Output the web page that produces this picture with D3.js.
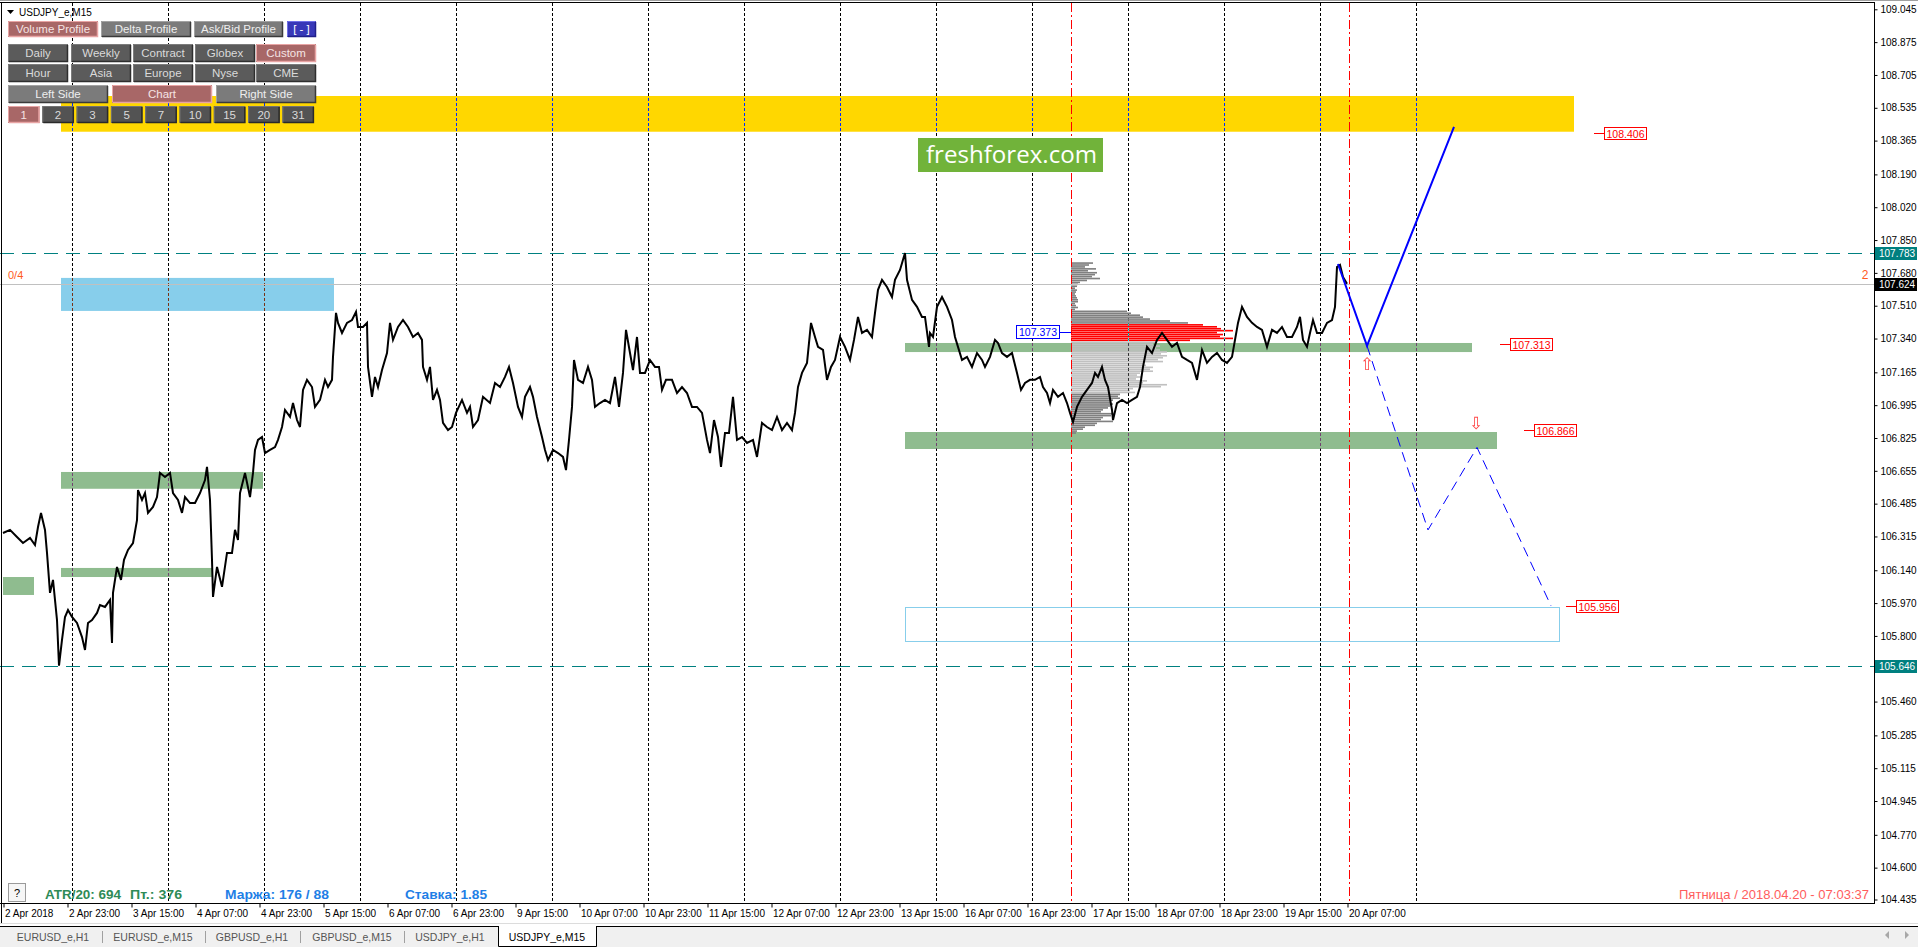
<!DOCTYPE html>
<html>
<head>
<meta charset="utf-8">
<title>USDJPY_e,M15</title>
<script src="https://cdnjs.cloudflare.com/ajax/libs/d3/7.8.5/d3.min.js"></script>
<style>
  body { margin: 0; background: #fff; overflow: hidden; }
  text { font-family: "Liberation Sans", Arial, sans-serif; }
</style>
</head>
<body>
<svg id="chart" width="1918" height="947"></svg>
<script>
// ---------- values (bars are M15 bars from 2 Apr 07:00) ----------
const priceTicks = [109.045, 108.875, 108.705, 108.535, 108.365, 108.190, 108.020, 107.850,
  107.680, 107.510, 107.340, 107.165, 106.995, 106.825, 106.655, 106.485, 106.315, 106.140,
  105.970, 105.800, 105.630, 105.460, 105.285, 105.115, 104.945, 104.770, 104.600, 104.435];

const timeLabels = ['2 Apr 2018', '2 Apr 23:00', '3 Apr 15:00', '4 Apr 07:00', '4 Apr 23:00',
  '5 Apr 15:00', '6 Apr 07:00', '6 Apr 23:00', '9 Apr 15:00', '10 Apr 07:00', '10 Apr 23:00',
  '11 Apr 15:00', '12 Apr 07:00', '12 Apr 23:00', '13 Apr 15:00', '16 Apr 07:00', '16 Apr 23:00',
  '17 Apr 15:00', '18 Apr 07:00', '18 Apr 23:00', '19 Apr 15:00', '20 Apr 07:00'];
const barsPerLabel = 64;

// day separators (midnight bars)
const daySeparators = [69, 165, 261, 357, 453, 549, 645, 741, 837, 933, 1029, 1125, 1221, 1317, 1413];
// custom volume profile range
const profileRange = [1068, 1346];

// close line [bar, price]
const closes = [
  [0,106.333],[7,106.349],[14,106.312],[20,106.281],[27,106.307],[32,106.271],[35,106.364],[38,106.437],
  [42,106.349],[44,106.230],[47,106.023],[50,106.090],[54,105.882],[56,105.646],[59,105.779],[62,105.898],
  [65,105.934],[69,105.898],[74,105.867],[79,105.794],[82,105.727],[85,105.867],[89,105.882],[94,105.919],
  [97,105.960],[102,105.950],[107,105.986],[109,105.763],[110,106.023],[114,106.157],[118,106.090],[121,106.194],
  [125,106.245],[130,106.281],[134,106.400],[135,106.555],[139,106.504],[142,106.540],[145,106.437],[150,106.468],
  [154,106.519],[157,106.644],[162,106.623],[167,106.644],[170,106.540],[175,106.504],[179,106.437],[182,106.519],
  [187,106.488],[192,106.488],[197,106.540],[202,106.607],[204,106.675],[207,106.504],[209,106.194],[210,106.002],
  [214,106.157],[219,106.054],[224,106.230],[229,106.230],[232,106.349],[235,106.297],[237,106.540],[242,106.644],
  [247,106.519],[250,106.644],[252,106.763],[255,106.815],[259,106.830],[262,106.747],[267,106.763],[272,106.778],
  [275,106.815],[279,106.882],[282,106.970],[287,106.934],[290,107.006],[294,106.918],[297,106.882],[300,107.074],
  [304,107.126],[309,107.089],[312,106.986],[317,107.022],[322,107.126],[325,107.089],[329,107.126],[330,107.245],
  [333,107.473],[335,107.421],[339,107.369],[344,107.421],[349,107.436],[353,107.478],[355,107.400],[360,107.400],
  [364,107.421],[365,107.193],[369,107.038],[372,107.141],[375,107.089],[379,107.177],[384,107.265],[387,107.421],
  [390,107.333],[395,107.400],[400,107.436],[405,107.400],[410,107.348],[415,107.369],[419,107.333],[420,107.193],
  [424,107.126],[427,107.193],[430,107.022],[434,107.074],[437,107.022],[440,106.903],[445,106.866],[449,106.882],
  [453,106.955],[459,107.022],[464,106.955],[467,106.986],[470,106.882],[475,106.918],[480,107.038],[487,107.006],
  [492,107.110],[497,107.089],[502,107.141],[506,107.193],[510,107.110],[515,106.986],[519,106.934],[522,107.038],
  [527,107.089],[530,107.038],[534,106.934],[539,106.830],[542,106.763],[545,106.711],[550,106.763],[555,106.747],
  [560,106.727],[563,106.659],[566,106.815],[569,106.986],[571,107.229],[575,107.126],[580,107.110],[585,107.193],
  [589,107.126],[592,106.986],[597,107.006],[602,107.022],[607,107.006],[612,107.141],[616,106.986],[620,107.162],
  [623,107.385],[627,107.265],[630,107.177],[634,107.348],[637,107.162],[642,107.162],[647,107.229],[652,107.193],
  [656,107.193],[659,107.074],[663,107.126],[669,107.126],[674,107.058],[679,107.089],[684,107.058],[689,106.986],
  [694,106.986],[699,106.955],[704,106.815],[707,106.747],[711,106.918],[715,106.830],[718,106.675],[722,106.851],
  [726,106.851],[730,107.038],[734,106.815],[739,106.830],[744,106.799],[750,106.815],[754,106.727],[759,106.903],
  [764,106.882],[769,106.866],[774,106.934],[779,106.866],[784,106.903],[789,106.866],[792,106.955],[795,107.089],
  [799,107.162],[804,107.214],[808,107.421],[812,107.348],[815,107.297],[820,107.281],[824,107.126],[828,107.193],
  [832,107.229],[837,107.348],[842,107.297],[847,107.229],[851,107.333],[855,107.452],[859,107.369],[864,107.385],
  [869,107.348],[872,107.473],[875,107.592],[879,107.644],[884,107.607],[889,107.555],[892,107.644],[897,107.695],
  [902,107.783],[904,107.644],[909,107.540],[914,107.504],[919,107.452],[922,107.452],[926,107.297],[927,107.369],
  [930,107.348],[934,107.504],[939,107.555],[944,107.504],[949,107.436],[952,107.348],[955,107.297],[959,107.229],
  [964,107.245],[969,107.193],[974,107.265],[979,107.229],[982,107.193],[987,107.245],[992,107.333],[995,107.317],
  [999,107.265],[1004,107.245],[1009,107.265],[1014,107.162],[1018,107.074],[1022,107.110],[1027,107.126],[1032,107.126],
  [1037,107.141],[1040,107.089],[1044,107.058],[1047,107.006],[1050,107.074],[1055,107.038],[1060,107.058],[1064,107.006],
  [1067,106.955],[1070,106.908],[1074,106.986],[1079,107.038],[1084,107.074],[1089,107.110],[1092,107.162],[1095,107.141],
  [1099,107.193],[1102,107.126],[1105,107.089],[1109,106.970],[1110,106.918],[1114,107.006],[1119,107.022],[1124,107.006],
  [1129,107.022],[1134,107.038],[1137,107.089],[1140,107.193],[1144,107.297],[1149,107.265],[1154,107.333],[1159,107.369],
  [1164,107.333],[1169,107.297],[1174,107.317],[1179,107.245],[1184,107.229],[1189,107.214],[1194,107.126],[1199,107.281],
  [1204,107.214],[1209,107.245],[1214,107.265],[1219,107.229],[1224,107.214],[1229,107.245],[1232,107.333],[1235,107.421],
  [1239,107.504],[1244,107.452],[1249,107.421],[1254,107.400],[1259,107.385],[1264,107.297],[1269,107.385],[1274,107.369],
  [1279,107.400],[1284,107.348],[1289,107.348],[1294,107.400],[1297,107.452],[1300,107.333],[1304,107.297],[1307,107.369],
  [1310,107.436],[1314,107.369],[1319,107.369],[1324,107.421],[1329,107.436],[1332,107.504],[1334,107.710],[1337,107.721],
  [1340,107.659],[1344,107.624]
];

// volume profile rows
const profilePrice = [107.73,107.72,107.71,107.70,107.69,107.68,107.67,107.66,107.65,107.64,
  107.63,107.62,107.61,107.60,107.59,107.58,107.57,107.56,107.55,107.54,
  107.53,107.52,107.51,107.50,107.49,107.48,107.47,107.46,107.45,107.44,
  107.43,107.42,107.41,107.40,107.39,107.38,107.37,107.36,107.35,107.34,
  107.33,107.32,107.31,107.30,107.29,107.28,107.27,107.26,107.25,107.24,
  107.23,107.22,107.21,107.20,107.19,107.18,107.17,107.16,107.15,107.14,
  107.13,107.12,107.11,107.10,107.09,107.08,107.07,107.06,107.05,107.04,
  107.03,107.02,107.01,107.00,106.99,106.98,106.97,106.96,106.95,106.94,
  106.93,106.92,106.91,106.90,106.89,106.88,106.87,106.86,106.85];
const profileVolume = [220,180,140,250,170,260,240,210,290,160,
  90,70,60,40,60,50,40,50,60,70,
  70,40,50,70,40,560,600,690,720,790,
  990,1170,1320,1460,1500,1620,1460,1520,1490,1620,
  1190,860,820,890,850,890,960,900,960,920,
  870,920,720,750,820,790,820,690,660,700,
  650,760,720,960,900,620,590,640,490,470,
  490,420,400,420,390,370,320,300,420,400,
  320,300,420,260,240,140,120,60,50];
const pocHigh = 107.41, pocLow = 107.33, vaHigh = 107.32, vaLow = 107.06;
const pocPrice = 107.373;

// zones [fromBar, toBar, high, low, kind]
const zones = [
  [58, 1571, 108.596, 108.411, 'target'],
  [58, 331, 107.654, 107.483, 'resist'],
  [58, 260, 106.649, 106.562, 'support'],
  [58, 209, 106.152, 106.105, 'support'],
  [0, 31, 106.105, 106.012, 'support'],
  [902, 1469, 107.317, 107.270, 'support'],
  [902, 1494, 106.856, 106.768, 'support']
];
const targetBox = [902, 1556, 105.950, 105.774];

const levelLines = [107.783, 105.646];
const lastPrice = 107.624;

const forecastMain = [[1335, 107.726], [1364, 107.302], [1451, 108.436]];
const forecastAlt = [[1364, 107.302], [1425, 106.349], [1474, 106.776], [1548, 105.956]];
const arrowsUp = [[1364, 107.214]];
const arrowsDown = [[1473, 106.908]];

// price tags [bar, price]
const priceTags = [[1591, 108.406], [1497, 107.313], [1521, 106.866], [1563, 105.956]];

const buttonsRow1 = ['Volume Profile', 'Delta Profile', 'Ask/Bid Profile', '[ - ]'];
const buttonsRow2 = ['Daily', 'Weekly', 'Contract', 'Globex', 'Custom'];
const buttonsRow3 = ['Hour', 'Asia', 'Europe', 'Nyse', 'CME'];
const buttonsRow4 = ['Left Side', 'Chart', 'Right Side'];
const buttonsRow5 = ['1', '2', '3', '5', '7', '10', '15', '20', '31'];

const statusTexts = ['ATR/20: 694', 'Пт.: 376', 'Маржа: 176 / 88', 'Ставка: 1.85'];
const clockText = 'Пятница / 2018.04.20 - 07:03:37';
const tabs = ['EURUSD_e,H1', 'EURUSD_e,M15', 'GBPUSD_e,H1', 'GBPUSD_e,M15', 'USDJPY_e,H1', 'USDJPY_e,M15'];

// ---------- layout ----------
const W = 1918, H = 947;
const plotLeft = 3, plotRight = 1874, plotTop = 3, plotBottom = 903;

const x = d3.scaleLinear().domain([0, 1871]).range([plotLeft, plotRight]);
const y = d3.scaleLinear().domain([104.435, 109.045]).range([899.5, 9.3]);

const svg = d3.select('#chart');
svg.append('rect').attr('width', W).attr('height', H).attr('fill', '#fff');

svg.append('clipPath').attr('id', 'plotClip')
  .append('rect').attr('x', 0).attr('y', plotTop).attr('width', plotRight).attr('height', plotBottom - plotTop);

const plot = svg.append('g').attr('clip-path', 'url(#plotClip)');
plot.append('rect').attr('x', 0).attr('y', 0).attr('width', plotRight).attr('height', plotBottom).attr('fill', '#fff');

// zones
const zoneFill = { target: '#ffd700', resist: '#87ceeb', support: '#8fbc8f' };
plot.selectAll('rect.zone').data(zones).join('rect')
  .attr('class', 'zone')
  .attr('x', d => x(d[0]))
  .attr('y', d => y(d[2]))
  .attr('width', d => x(d[1]) - x(d[0]))
  .attr('height', d => y(d[3]) - y(d[2]))
  .attr('fill', d => zoneFill[d[4]]);

plot.append('rect')
  .attr('x', Math.round(x(targetBox[0])) + 0.5)
  .attr('y', Math.round(y(targetBox[2])) + 0.5)
  .attr('width', x(targetBox[1]) - x(targetBox[0]))
  .attr('height', y(targetBox[3]) - y(targetBox[2]))
  .attr('fill', 'none').attr('stroke', '#87ceeb');

// volume profile
const vol = d3.scaleLinear().domain([0, 1620]).range([0, 162]);
const rowColor = p => (p <= pocHigh + 1e-9 && p >= pocLow - 1e-9) ? '#ff0000'
  : (p <= vaHigh + 1e-9 && p >= vaLow - 1e-9) ? '#c0c0c0' : '#808080';
plot.selectAll('rect.vp').data(profilePrice).join('rect')
  .attr('class', 'vp')
  .attr('x', x(profileRange[0]))
  .attr('y', d => y(d + 0.005))
  .attr('width', (d, i) => vol(profileVolume[i]))
  .attr('height', d => y(d - 0.005) - y(d + 0.005) - 0.3)
  .attr('fill', rowColor);

// period separators (xor-like look)
const sep = plot.append('g').style('mix-blend-mode', 'difference');
sep.selectAll('line').data(daySeparators).join('line')
  .attr('x1', d => Math.round(x(d)) + 0.5).attr('x2', d => Math.round(x(d)) + 0.5)
  .attr('y1', plotTop).attr('y2', plotBottom)
  .attr('stroke', '#fff').attr('stroke-dasharray', '3,2');

// profile bounds
plot.selectAll('line.bound').data(profileRange).join('line')
  .attr('class', 'bound')
  .attr('x1', d => Math.round(x(d)) + 0.5).attr('x2', d => Math.round(x(d)) + 0.5)
  .attr('y1', plotTop).attr('y2', plotBottom)
  .attr('stroke', '#ff0000').attr('stroke-dasharray', '9,3,2,3');

// horizontal levels
plot.selectAll('line.level').data(levelLines).join('line')
  .attr('class', 'level')
  .attr('x1', 0).attr('x2', plotRight)
  .attr('y1', d => Math.round(y(d)) + 0.5).attr('y2', d => Math.round(y(d)) + 0.5)
  .attr('stroke', '#008080').attr('stroke-dasharray', '14,8');

plot.append('line')
  .attr('x1', 0).attr('x2', plotRight)
  .attr('y1', Math.round(y(lastPrice)) + 0.5).attr('y2', Math.round(y(lastPrice)) + 0.5)
  .attr('stroke', '#c0c0c0');

// close line
const line = d3.line().x(d => x(d[0])).y(d => y(d[1]));
plot.append('path').datum(closes)
  .attr('d', line).attr('fill', 'none')
  .attr('stroke', '#000').attr('stroke-width', 2).attr('stroke-linejoin', 'miter');

// forecast paths
plot.append('path').datum(forecastMain)
  .attr('d', line).attr('fill', 'none').attr('stroke', '#0000ff').attr('stroke-width', 2);
plot.append('path').datum(forecastAlt)
  .attr('d', line).attr('fill', 'none').attr('stroke', '#0000ff').attr('stroke-dasharray', '10,6');

plot.selectAll('text.up').data(arrowsUp).join('text')
  .attr('class', 'up')
  .attr('x', d => x(d[0])).attr('y', d => y(d[1]) + 7)
  .attr('text-anchor', 'middle').attr('font-size', 17).attr('fill', '#ff4a4a')
  .style('font-family', '"DejaVu Sans"').text('⇧');
plot.selectAll('text.down').data(arrowsDown).join('text')
  .attr('class', 'down')
  .attr('x', d => x(d[0])).attr('y', d => y(d[1]) + 7)
  .attr('text-anchor', 'middle').attr('font-size', 17).attr('fill', '#ff4a4a')
  .style('font-family', '"DejaVu Sans"').text('⇩');

// price tags
const tagG = svg.append('g');
priceTags.forEach(([bar, p]) => {
  const tx = Math.round(x(bar)), ty = Math.round(y(p));
  tagG.append('line').attr('x1', tx).attr('x2', tx + 10).attr('y1', ty + 0.5).attr('y2', ty + 0.5).attr('stroke', '#ff0000');
  tagG.append('rect').attr('x', tx + 10.5).attr('y', ty - 5.5).attr('width', 42).attr('height', 12)
    .attr('fill', '#fff').attr('stroke', '#ff0000');
  tagG.append('text').attr('x', tx + 31.5).attr('y', ty + 4.5).attr('text-anchor', 'middle')
    .attr('font-size', 10.5).attr('fill', '#ff0000').text(p.toFixed(3));
});

// POC tag
{
  const px = Math.round(x(profileRange[0])), py = Math.round(y(pocPrice));
  tagG.append('line').attr('x1', px - 12).attr('x2', px).attr('y1', py + 0.5).attr('y2', py + 0.5).attr('stroke', '#0000ff');
  tagG.append('rect').attr('x', px - 54.5).attr('y', py - 6.5).attr('width', 43).attr('height', 13)
    .attr('fill', '#fff').attr('stroke', '#0000ff');
  tagG.append('text').attr('x', px - 33).attr('y', py + 4).attr('text-anchor', 'middle')
    .attr('font-size', 10.5).attr('fill', '#0000ff').text(pocPrice.toFixed(3));
}

// watermark
svg.append('rect').attr('x', 918).attr('y', 138).attr('width', 185).attr('height', 34).attr('fill', '#71b33a');
svg.append('text').attr('x', 926).attr('y', 163).attr('font-size', 23).attr('fill', '#fff')
  .attr('textLength', 171).attr('lengthAdjust', 'spacingAndGlyphs')
  .style('font-family', '"Open Sans", sans-serif').text('freshforex.com');

// side labels
svg.append('text').attr('x', 8).attr('y', 279).attr('font-size', 11).attr('fill', '#ff5a1e').text('0/4');
svg.append('text').attr('x', 1865).attr('y', 279).attr('font-size', 12).attr('text-anchor', 'middle').attr('fill', '#ff5a1e').text('2');

// ---------- axes ----------
const yAxis = d3.axisRight(y).tickValues(priceTicks).tickFormat(d3.format('.3f')).tickSize(3).tickPadding(3);
const gy = svg.append('g').attr('transform', `translate(${plotRight + 0.5},0)`).call(yAxis);
gy.select('.domain').remove();
gy.selectAll('text').attr('font-size', 10).attr('fill', '#000');

const xAxis = d3.axisBottom(x)
  .tickValues(timeLabels.map((_, i) => i * barsPerLabel))
  .tickFormat((d, i) => timeLabels[i]).tickSize(4).tickPadding(2);
const gx = svg.append('g').attr('transform', `translate(0.5,${plotBottom + 0.5})`).call(xAxis);
gx.select('.domain').remove();
gx.selectAll('text').attr('text-anchor', 'start').attr('dx', 1).attr('font-size', 10).attr('fill', '#000');

svg.append('line').attr('x1', 0).attr('x2', plotRight + 1).attr('y1', plotBottom + 0.5).attr('y2', plotBottom + 0.5).attr('stroke', '#000');
svg.append('line').attr('x1', plotRight + 0.5).attr('x2', plotRight + 0.5).attr('y1', plotTop).attr('y2', plotBottom + 1).attr('stroke', '#000');
svg.append('line').attr('x1', 0).attr('x2', W).attr('y1', 0.5).attr('y2', 0.5).attr('stroke', '#a0a0a0');
svg.append('line').attr('x1', 0).attr('x2', plotRight + 1).attr('y1', 2.5).attr('y2', 2.5).attr('stroke', '#000');
svg.append('line').attr('x1', 1.5).attr('x2', 1.5).attr('y1', 2).attr('y2', 924).attr('stroke', '#000');

// axis value tags
const axisTags = [[levelLines[0], '#008080'], [levelLines[1], '#008080'], [lastPrice, '#000']];
axisTags.forEach(([p, c]) => {
  const ty = Math.round(y(p));
  svg.append('rect').attr('x', plotRight + 1).attr('y', ty - 6).attr('width', 42).attr('height', 13).attr('fill', c);
  svg.append('text').attr('x', plotRight + 5).attr('y', ty + 4).attr('font-size', 10).attr('fill', '#fff').text(p.toFixed(3));
});

// ---------- top panel ----------
svg.append('path').attr('d', 'M7,10H14L10.5,14Z').attr('fill', '#000');
svg.append('text').attr('x', 19).attr('y', 16).attr('font-size', 10).attr('fill', '#000').text('USDJPY_e,M15');

const btnStyle = {
  light: { bg: '#7b7b7b', hi: '#a2a2a2', lo: '#3a3a3a', fg: '#eeeeee' },
  dark: { bg: '#5b5b5b', hi: '#7c7c7c', lo: '#2e2e2e', fg: '#dadada' },
  num: { bg: '#535353', hi: '#737373', lo: '#2a2a2a', fg: '#dadada' },
  sel: { bg: '#a86767', hi: '#e8a4a4', lo: '#e8a4a4', fg: '#f5e4e4' },
  blue: { bg: '#3838b8', hi: '#6f6fe6', lo: '#20208a', fg: '#ffffff' }
};
const panel = svg.append('g');
function button(bx, by, bw, bh, label, kind) {
  const c = btnStyle[kind];
  panel.append('rect').attr('x', bx).attr('y', by).attr('width', bw).attr('height', bh).attr('fill', c.bg);
  panel.append('path').attr('d', `M${bx + 0.5},${by + bh - 0.5}V${by + 0.5}H${bx + bw - 0.5}`)
    .attr('fill', 'none').attr('stroke', c.hi);
  panel.append('path').attr('d', `M${bx + 1},${by + bh - 0.5}H${bx + bw - 0.5}V${by + 1}`)
    .attr('fill', 'none').attr('stroke', c.lo).attr('stroke-width', 1.5);
  panel.append('text').attr('x', bx + bw / 2).attr('y', by + bh / 2 + 4)
    .attr('text-anchor', 'middle').attr('font-size', 11.5).attr('fill', c.fg).text(label);
}
const row1X = [[8, 90], [101, 90], [194, 89], [287, 29]];
buttonsRow1.forEach((t, i) => button(row1X[i][0], 21, row1X[i][1], 16, t, i === 0 ? 'sel' : i === 3 ? 'blue' : 'light'));
const row2X = [8, 71, 133, 195, 256];
buttonsRow2.forEach((t, i) => button(row2X[i], 44, 60, 18, t, i === 4 ? 'sel' : 'dark'));
buttonsRow3.forEach((t, i) => button(row2X[i], 64, 60, 18, t, 'dark'));
const row4X = [8, 112, 216];
buttonsRow4.forEach((t, i) => button(row4X[i], 85, 100, 18, t, i === 1 ? 'sel' : 'light'));
buttonsRow5.forEach((t, i) => button(8 + i * 34.3, 106, 31.5, 17, t, i === 0 ? 'sel' : 'num'));

// ---------- status line ----------
svg.append('rect').attr('x', 8.5).attr('y', 883.5).attr('width', 17).attr('height', 18)
  .attr('fill', '#f6f6f6').attr('stroke', '#9a9a9a');
svg.append('text').attr('x', 17).attr('y', 897).attr('text-anchor', 'middle').attr('font-size', 11).attr('fill', '#000').text('?');

const statusX = [45, 130, 225, 405];
const statusW = [76, 52, 104, 82];
const statusC = ['#2e8b57', '#2e8b57', '#1f7fe6', '#1f7fe6'];
statusTexts.forEach((t, i) => {
  svg.append('text').attr('x', statusX[i]).attr('y', 899).attr('font-size', 13).attr('font-weight', 'bold')
    .attr('fill', statusC[i]).attr('textLength', statusW[i]).attr('lengthAdjust', 'spacingAndGlyphs').text(t);
});
svg.append('text').attr('x', 1679).attr('y', 899).attr('font-size', 13).attr('fill', '#ff5c5c')
  .attr('textLength', 190).attr('lengthAdjust', 'spacingAndGlyphs').text(clockText);

// ---------- tab bar ----------
svg.append('line').attr('x1', 0).attr('x2', W).attr('y1', 923.5).attr('y2', 923.5).attr('stroke', '#dcdcdc');
svg.append('rect').attr('x', 0).attr('y', 926).attr('width', W).attr('height', H - 926).attr('fill', '#f0f0f0');
svg.append('line').attr('x1', 0).attr('x2', W).attr('y1', 926.5).attr('y2', 926.5).attr('stroke', '#000');
const tabCenter = [53, 153, 252, 352, 450, 547];
const tabSep = [102, 205, 300, 404];
svg.append('path').attr('d', 'M498.5,926V946.5H596.5V926').attr('fill', '#fff').attr('stroke', '#000');
tabSep.forEach(sx => svg.append('line').attr('x1', sx + 0.5).attr('x2', sx + 0.5).attr('y1', 931).attr('y2', 943).attr('stroke', '#a0a0a0'));
tabs.forEach((t, i) => {
  svg.append('text').attr('x', tabCenter[i]).attr('y', 941).attr('text-anchor', 'middle')
    .attr('font-size', 10.5).attr('fill', i === 5 ? '#000' : '#555').text(t);
});
svg.append('path').attr('d', 'M1889,931L1885,935L1889,939Z').attr('fill', '#a8a8a8');
svg.append('path').attr('d', 'M1905,931L1909,935L1905,939Z').attr('fill', '#a8a8a8');
</script>
</body>
</html>
